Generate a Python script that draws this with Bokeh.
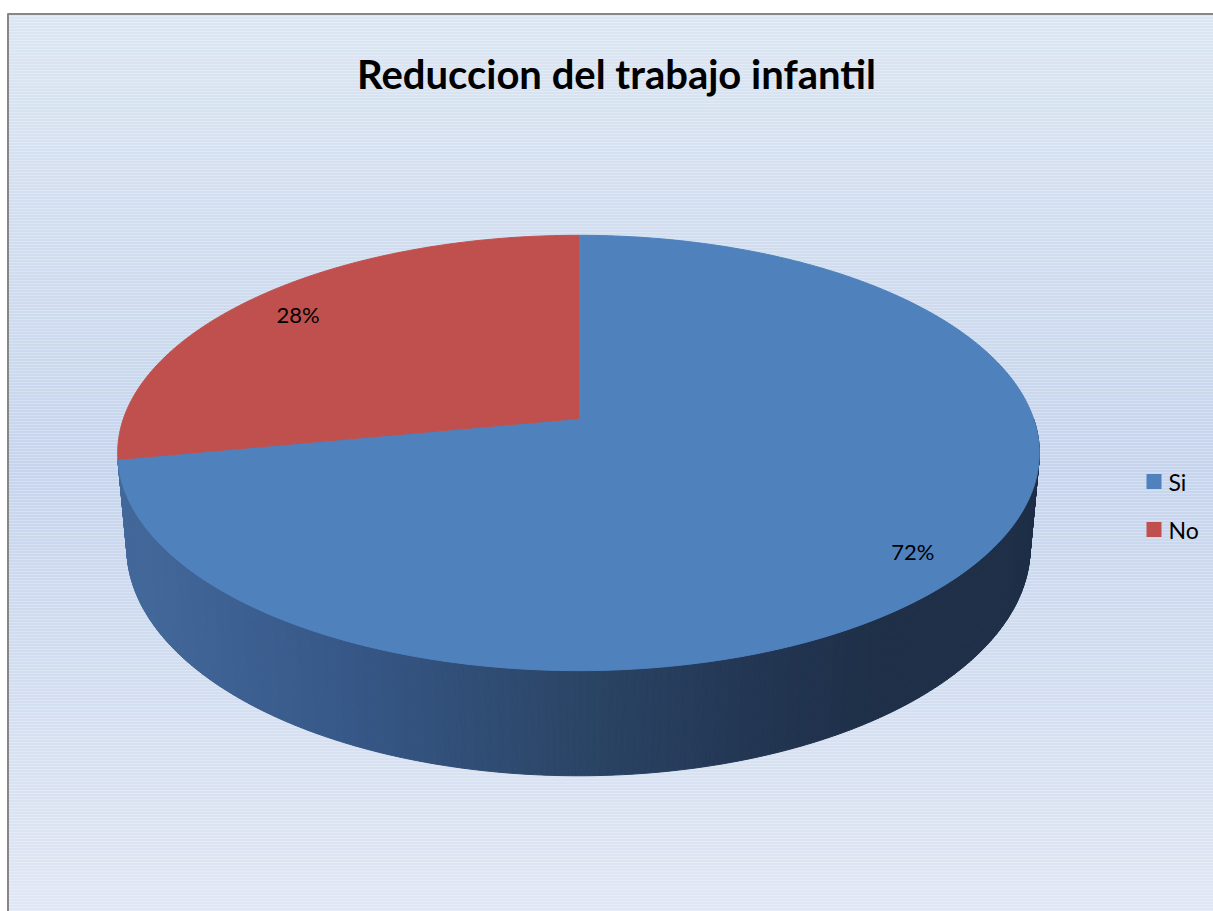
import numpy as np
from bokeh.plotting import figure
from bokeh.models import Range1d
from bokeh.core.properties import value
from bokeh.embed import file_html
from bokeh.resources import INLINE

# ---------------- data ----------------
categories = ["Si", "No"]
values = [72, 28]
top_colors = ["#4f81bd", "#c0504d"]
title_text = "Reduccion del trabajo infantil"

# ---------------- helpers ----------------
def hex2rgb(h):
    h = h.lstrip("#")
    return np.array([int(h[i:i + 2], 16) for i in (0, 2, 4)], dtype=float)

def rgb2hex(c):
    c = np.clip(np.round(c), 0, 255).astype(int)
    return "#%02x%02x%02x" % tuple(c)

def interp_color(t, stops):
    pos = [s[0] for s in stops]
    cols = [hex2rgb(s[1]) for s in stops]
    t = float(np.clip(t, pos[0], pos[-1]))
    for i in range(len(pos) - 1):
        if pos[i] <= t <= pos[i + 1]:
            f = (t - pos[i]) / (pos[i + 1] - pos[i]) if pos[i + 1] > pos[i] else 0
            return rgb2hex(cols[i] * (1 - f) + cols[i + 1] * f)
    return rgb2hex(cols[-1])

# perspective projection of the pie (screen pixel coordinates)
CX, CY = 578.0, 418.0
FOC = 2542.0
RAD = 0.179
THK = 0.0425
ALPHA = np.radians(27.8)
SA, CA = np.sin(ALPHA), np.cos(ALPHA)

def proj(theta, r=1.0, z=0.0):
    """theta clockwise from 12 o'clock; r fraction of radius; z=0 top, z=1 bottom."""
    u = r * RAD * np.sin(theta)
    v = r * RAD * np.cos(theta)
    zz = -z * THK
    yc = v * SA + zz * CA
    depth = 1.0 + v * CA - zz * SA
    sx = CX + FOC * u / depth
    sy = CY - FOC * yc / depth
    return sx, sy

# ---------------- figure ----------------
W, H = 1213, 911
p = figure(width=W, height=H, x_range=Range1d(0, W), y_range=Range1d(-H, 0),
           output_backend="svg", toolbar_location=None, min_border=0)
p.axis.visible = False
p.grid.visible = False
p.outline_line_color = None
p.background_fill_color = "white"
p.border_fill_color = "white"

# chart-area background: vertical gradient
bg_stops = [(13, "#dce6f2"), (470, "#c6d5ed"), (911, "#e0e7f4")]
ys_bg = np.arange(13, 915, 3)
p.quad(left=7, right=1240, top=[-y for y in ys_bg], bottom=[-(y + 3) for y in ys_bg],
       fill_color=[interp_color(y + 1.5, bg_stops) for y in ys_bg],
       line_color=None)
# border (left and top)
p.line([7.5, 7.5], [-13, -915], line_color="#878787", line_width=2)
p.line([7, 1240], [-13.5, -13.5], line_color="#878787", line_width=2)

# ---------------- pie ----------------
total = float(sum(values))
fracs = [v / total for v in values]
bounds = np.concatenate([[0.0], np.cumsum(fracs)]) * 2 * np.pi

side_stops = [(120, "#44699b"), (330, "#37598a"), (578, "#2b4566"),
              (780, "#213450"), (880, "#1e2f47"), (1100, "#1e2f47")]

# side wall of the front slice (near half only)
t_end = min(bounds[1], 1.5 * np.pi)
ths = np.linspace(0.5 * np.pi, t_end, 361)
sxs, sys_, scol = [], [], []
for i in range(len(ths) - 1):
    t0, t1 = ths[i], ths[i + 1]
    x0, y0 = proj(t0, 1, 0)
    x1, y1 = proj(t1, 1, 0)
    x2, y2 = proj(t1, 1, 1)
    x3, y3 = proj(t0, 1, 1)
    sxs.append([x0, x1, x2, x3])
    sys_.append([-y0, -y1, -y2, -y3])
    scol.append(interp_color(0.5 * (x0 + x2), side_stops))
p.patches(sxs, sys_, fill_color=scol, line_color=scol, line_width=1)

# top faces
txs, tys = [], []
cx0, cy0 = proj(0.0, 0.0, 0)
for i in range(len(values)):
    th = np.linspace(bounds[i], bounds[i + 1], 240)
    ax, ay = proj(th, 1, 0)
    txs.append(np.concatenate([[cx0], ax]).tolist())
    tys.append((-np.concatenate([[cy0], ay])).tolist())
p.patches(txs, tys, fill_color=top_colors, line_color=top_colors, line_width=1)

# percentage labels
lx, ly, lt = [], [], []
for i in range(len(values)):
    mid = 0.5 * (bounds[i] + bounds[i + 1])
    x, y = proj(mid, 0.87, 0)
    lx.append(x)
    ly.append(-y - 4)
    lt.append(f"{values[i] / total * 100:.0f}%")
p.text(lx, ly, text=lt, text_align="center", text_baseline="middle",
       text_font=value("Lato"), text_font_size="22px", text_color="black")

# ---------------- title ----------------
p.text([616], [-73], text=[title_text], text_align="center", text_baseline="alphabetic",
       text_font=value("Lato"), text_font_style="bold", text_font_size="40px",
       text_color="black")

# ---------------- legend ----------------
leg_y = [481 + 48 * i for i in range(len(categories))]
p.quad(left=[1146] * len(categories), right=[1161] * len(categories),
       top=[-(y - 7.5) for y in leg_y], bottom=[-(y + 7.5) for y in leg_y],
       fill_color=top_colors, line_color=None)
p.text([1168] * len(categories), [-y for y in leg_y], text=categories,
       text_align="left", text_baseline="middle",
       text_font=value("Lato"), text_font_size="23px", text_color="black")

open("out.html", "w").write(file_html(p, INLINE))
